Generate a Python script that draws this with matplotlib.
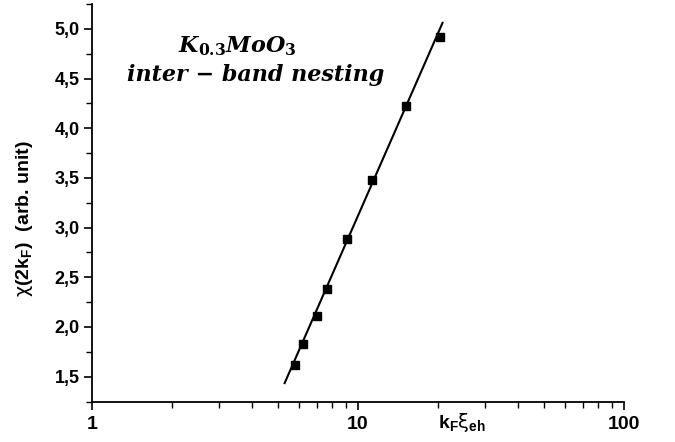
import matplotlib
matplotlib.use("Agg")
import matplotlib.pyplot as plt
from matplotlib.ticker import FixedLocator, NullFormatter, FuncFormatter, MultipleLocator

# data
kf_xi = [5.78, 6.23, 7.03, 7.66, 9.09, 11.3, 15.1, 20.3]
chi = [1.62, 1.83, 2.115, 2.38, 2.885, 3.48, 4.22, 4.915]
fit_x = [5.30, 20.8]
fit_y = [1.435, 5.06]
x_major = [1, 10, 100]
y_major = [1.5, 2.0, 2.5, 3.0, 3.5, 4.0, 4.5, 5.0]

plt.rcParams['mathtext.fontset'] = 'custom'
plt.rcParams['mathtext.rm'] = 'Liberation Sans:bold'
plt.rcParams['mathtext.it'] = 'Liberation Sans:bold'
plt.rcParams['mathtext.bf'] = 'DejaVu Serif:bold'
plt.rcParams['mathtext.sf'] = 'DejaVu Sans'

fig = plt.figure(figsize=(6.75, 4.42), dpi=100)
ax = fig.add_axes([0.1363, 0.0905, 0.788, 0.9005])

ax.plot(fit_x, fit_y, color='black', lw=1.5, zorder=2)
ax.plot(kf_xi, chi, ls='none', marker='s', ms=6, color='black', zorder=3)

ax.set_xscale('log')
ax.set_xlim(1, 100)
ax.set_ylim(1.245, 5.25)

for s in ['top', 'right']:
    ax.spines[s].set_visible(False)
for s in ['left', 'bottom']:
    ax.spines[s].set_linewidth(1.3)

ax.xaxis.set_major_locator(FixedLocator(x_major))
ax.xaxis.set_minor_locator(FixedLocator([m * d for d in (1, 10) for m in range(2, 10)]))
ax.xaxis.set_minor_formatter(NullFormatter())
ax.xaxis.set_major_formatter(FuncFormatter(lambda v, p: f"{int(round(v))}"))
ax.yaxis.set_major_locator(FixedLocator(y_major))
ax.yaxis.set_minor_locator(MultipleLocator(0.25))
ax.yaxis.set_major_formatter(FuncFormatter(lambda v, p: f"{v:.1f}".replace('.', ',')))

ax.tick_params(which='major', direction='out', length=6, width=1.2)
ax.tick_params(which='minor', direction='out', length=4, width=1.0)
for lab in ax.get_yticklabels():
    lab.set_fontfamily('Liberation Sans'); lab.set_fontweight('bold'); lab.set_fontsize(13)
for lab in ax.get_xticklabels():
    lab.set_fontfamily('Liberation Sans'); lab.set_fontweight('bold'); lab.set_fontsize(14)
ax.tick_params(axis='y', pad=3)
ax.tick_params(axis='x', pad=4)

fig.text(0.036, 0.505, r"$\mathsf{\chi}$(2k$_F$)  (arb. unit)", rotation=90, ha='center', va='center',
         fontsize=14, fontfamily='Liberation Sans', fontweight='bold')
fig.text(0.685, 0.043, r"k$_F$$\mathsf{\xi}_{eh}$", ha='center', va='center',
         fontsize=14, fontfamily='Liberation Sans', fontweight='bold')

fig.text(0.352, 0.895, r"K$_{\mathbf{0.3}}$MoO$_{\mathbf{3}}$", ha='center', va='center',
         fontsize=16, fontfamily='DejaVu Serif', fontstyle='italic', fontweight='bold')
fig.text(0.378, 0.830, "inter − band nesting", ha='center', va='center',
         fontsize=16, fontfamily='DejaVu Serif', fontstyle='italic', fontweight='bold')

fig.savefig('out.png', dpi=100)
